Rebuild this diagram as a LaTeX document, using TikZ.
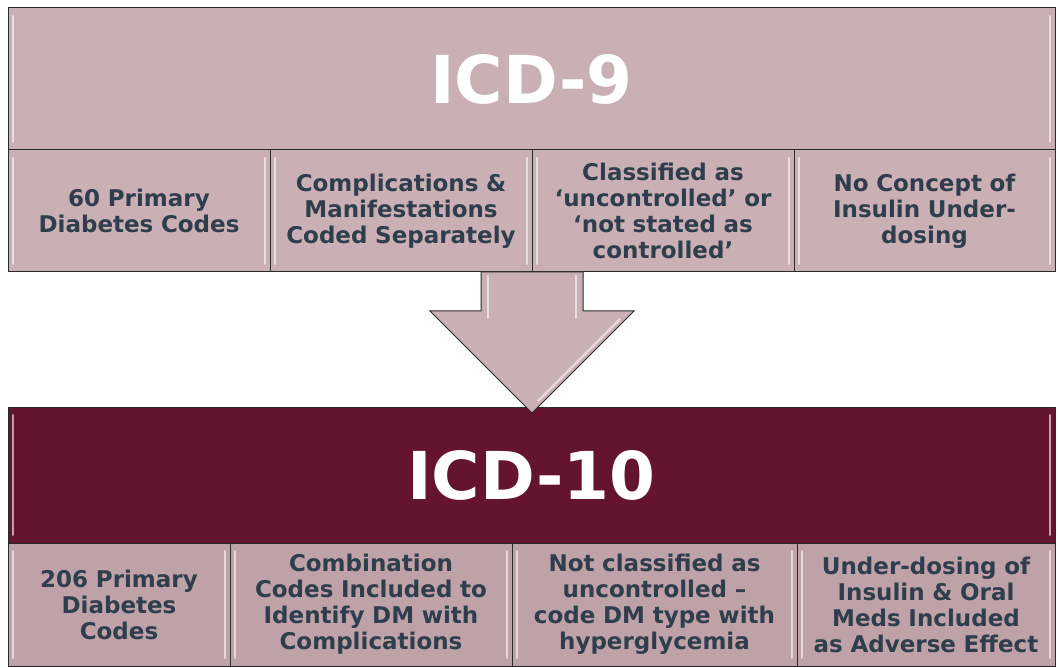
\documentclass[tikz,border=0pt]{standalone}
\usepackage{fontspec}
\setmainfont{DejaVu Sans}
\usetikzlibrary{calc}
\definecolor{icdRose}{HTML}{CAB0B5}
\definecolor{icdRoseDk}{HTML}{BFA1A8}
\definecolor{icdMaroon}{HTML}{651430}
\definecolor{icdInk}{HTML}{2F3E4C}
\definecolor{icdEdge}{HTML}{2A2A2A}

\begin{document}
\begin{tikzpicture}[x=1pt,y=-1pt]
    \tikzset{
        bevel/.style={path picture={
            \draw[white,opacity=.6,line width=2pt,line cap=round]
                ([xshift=5pt,yshift=-8pt]path picture bounding box.north west) -- ([xshift=5pt,yshift=8pt]path picture bounding box.south west)
                ([xshift=-5pt,yshift=-8pt]path picture bounding box.north east) -- ([xshift=-5pt,yshift=8pt]path picture bounding box.south east);
        }},
        head/.style={bevel,draw=icdEdge,line width=1pt,inner sep=0pt,outer sep=0pt,anchor=north west,
            minimum width=1047pt,minimum height=#1,text=white,font=\fontsize{66}{70}\selectfont\bfseries},
        cell/.style={bevel,draw=icdEdge,line width=1pt,inner sep=0pt,outer sep=0pt,anchor=north west,
            minimum width=#1,text width=#1-10pt,align=center,text=icdInk,font=\fontsize{23}{26}\selectfont\bfseries},
        shine/.style={white,opacity=.6,line width=2pt,line cap=round}
    }
    \useasboundingbox (0,0) rectangle (1058,668);

    % ICD-9 block
    \node[head=142pt,fill=icdRose] (h9) at (8,8) {ICD-9};
    \node[cell=262pt,minimum height=122pt,fill=icdRose] (a1) at (h9.south west) {60 Primary\\Diabetes Codes};
    \node[cell=262pt,minimum height=122pt,fill=icdRose] (a2) at (a1.north east) {Complications \&\\Manifestations\\Coded Separately};
    \node[cell=262pt,minimum height=122pt,fill=icdRose] (a3) at (a2.north east) {Classified as\\‘uncontrolled’ or\\‘not stated as\\controlled’};
    \node[cell=261pt,minimum height=122pt,fill=icdRose] (a4) at (a3.north east) {No Concept of\\Insulin Under-\\dosing};

    % ICD-10 block
    \node[head=136pt,fill=icdMaroon] (h10) at (8,407) {\raisebox{-3pt}{ICD-10}};
    \node[cell=222pt,minimum height=123pt,fill=icdRoseDk] (b1) at (h10.south west) {206 Primary\\Diabetes\\Codes};
    \node[cell=282pt,minimum height=123pt,fill=icdRoseDk] (b2) at (b1.north east) {Combination\\Codes Included to\\Identify DM with\\Complications};
    \node[cell=285pt,minimum height=123pt,fill=icdRoseDk] (b3) at (b2.north east) {Not classified as\\uncontrolled –\\code DM type with\\hyperglycemia};
    \node[cell=258pt,minimum height=123pt,fill=icdRoseDk] (b4) at (b3.north east) {Under-dosing of\\Insulin \& Oral\\Meds Included\\as Adverse Effect};

    % block arrow
    \coordinate (tip) at ($(a2.south east |- h10.north)+(0,6)$);
    \filldraw[fill=icdRose,draw=icdEdge,line width=1pt,line join=miter]
        ($(a2.south east)+(-51,0)$) -- ++(0,39) -- ++(-51,0) -- (tip) -- ++(102,-102) -- ++(-51,0) -- ++(0,-39) -- cycle;
    \draw[shine] ($(a2.south east)+(-44,4)$) -- ++(0,42);
    \draw[shine] ($(a2.south east)+(44,4)$) -- ++(0,42);
    \draw[shine] ($(tip)+(6,-12)$) -- ++(82,-82);
\end{tikzpicture}
\end{document}
